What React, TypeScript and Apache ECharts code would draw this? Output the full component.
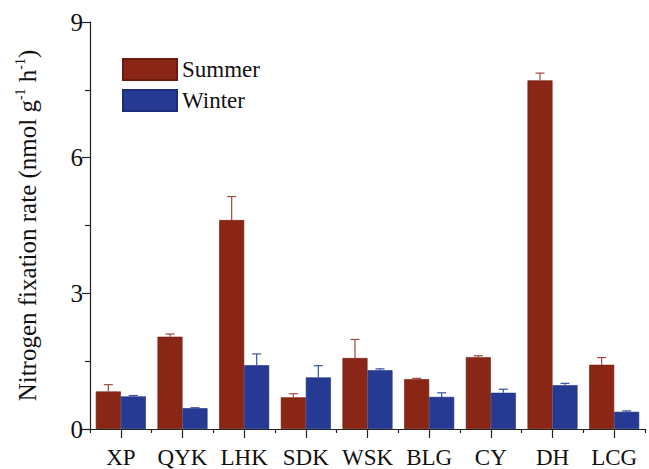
import React, { useEffect, useRef } from "react";
import * as echarts from "echarts";

const categories = ["XP", "QYK", "LHK", "SDK", "WSK", "BLG", "CY", "DH", "LCG"];
const summerValues = [0.83, 2.04, 4.62, 0.7, 1.57, 1.1, 1.59, 7.71, 1.42];
const summerErrors = [0.15, 0.06, 0.52, 0.08, 0.41, 0.02, 0.03, 0.16, 0.16];
const winterValues = [0.72, 0.46, 1.41, 1.14, 1.3, 0.71, 0.8, 0.97, 0.38];
const winterErrors = [0.02, 0.01, 0.25, 0.26, 0.03, 0.09, 0.08, 0.04, 0.02];
const yTicks = [0, 3, 6, 9];

const FONT = "Liberation Serif";
const SUMMER = "#8a2616";
const WINTER = "#263a94";
const BAR_W = 25;

function errorSeries(values: number[], errors: number[], offset: number, color: string) {
  return {
    type: "custom",
    xAxisIndex: 0,
    yAxisIndex: 0,
    silent: true,
    z: 5,
    data: values.map((v, i) => [i, v, v + errors[i]]),
    renderItem: (params: any, api: any) => {
      const i = api.value(0);
      const lo = api.coord([i, api.value(1)]);
      const hi = api.coord([i, api.value(2)]);
      const x = lo[0] + offset;
      return {
        type: "group",
        children: [
          { type: "line", shape: { x1: x, y1: lo[1], x2: x, y2: hi[1] }, style: { stroke: color, lineWidth: 1.2 } },
          { type: "line", shape: { x1: x - 4.5, y1: hi[1], x2: x + 4.5, y2: hi[1] }, style: { stroke: color, lineWidth: 1.2 } },
        ],
      };
    },
  };
}

export default function App() {
  const ref = useRef<HTMLDivElement>(null);
  useEffect(() => {
    const chart = echarts.init(ref.current!, null, { renderer: "svg" });
    chart.setOption({
      animation: false,
      backgroundColor: "#ffffff",
      textStyle: { fontFamily: FONT },
      grid: { left: 90, right: 4, top: 22, bottom: 35 },
      legend: {
        data: ["Summer", "Winter"],
        orient: "vertical",
        left: 117,
        top: 53,
        itemWidth: 54,
        itemHeight: 21,
        itemGap: 8,
        icon: "rect",
        textStyle: { fontFamily: FONT, fontSize: 23, color: "#111" },
      },
      xAxis: [
        {
          type: "category",
          data: categories,
          axisLine: { show: true, lineStyle: { color: "#222", width: 1.2 } },
          axisTick: { show: true, length: 4, lineStyle: { color: "#222", width: 1.2 } },
          axisLabel: { fontFamily: FONT, fontSize: 23, color: "#111", margin: 17, interval: 0 },
        },
        {
          type: "category",
          data: categories,
          position: "bottom",
          axisLine: { show: false },
          axisTick: { show: true, alignWithLabel: true, interval: 0, length: 9, lineStyle: { color: "#222", width: 1.2 } },
          axisLabel: { show: false },
        },
      ],
      yAxis: {
        type: "value",
        min: 0,
        max: 9,
        interval: 3,
        splitLine: { show: false },
        axisLine: { show: true, lineStyle: { color: "#222", width: 1.2 } },
        axisTick: { show: true, length: 8, lineStyle: { color: "#222", width: 1.2 } },
        minorTick: { show: true, splitNumber: 2, length: 5, lineStyle: { color: "#222", width: 1.2 } },
        axisLabel: {
          fontFamily: FONT,
          fontSize: 25,
          color: "#111",
          margin: 7,
          formatter: (v: number) => (yTicks.includes(v) ? String(v) : ""),
        },
        name: "{a|Nitrogen fixation rate (nmol g}{s|-1}{a| h}{s|-1}{a|)}",
        nameLocation: "middle",
        nameRotate: 90,
        nameGap: 49,
        nameTextStyle: {
          fontFamily: FONT,
          color: "#111",
          rich: {
            a: { fontFamily: FONT, fontSize: 25, color: "#111", lineHeight: 28 },
            s: { fontFamily: FONT, fontSize: 14, color: "#111", verticalAlign: "top", lineHeight: 28, padding: [0, 0, 11, 0] },
          },
        },
      },
      series: [
        {
          name: "Summer",
          type: "bar",
          data: summerValues,
          barWidth: BAR_W,
          barGap: "0%",
          itemStyle: { color: SUMMER, borderColor: "#6e1b0e", borderWidth: 0.6 },
        },
        {
          name: "Winter",
          type: "bar",
          data: winterValues,
          barWidth: BAR_W,
          barGap: "0%",
          itemStyle: { color: WINTER, borderColor: "#1b2d7a", borderWidth: 0.6 },
        },
        errorSeries(summerValues, summerErrors, -BAR_W / 2, "#9b4a44"),
        errorSeries(winterValues, winterErrors, BAR_W / 2, "#3b4fa6"),
      ],
    });
    return () => chart.dispose();
  }, []);
  return <div ref={ref} style={{ width: 649, height: 469, position: "absolute", left: 0, top: 0 }} />;
}
